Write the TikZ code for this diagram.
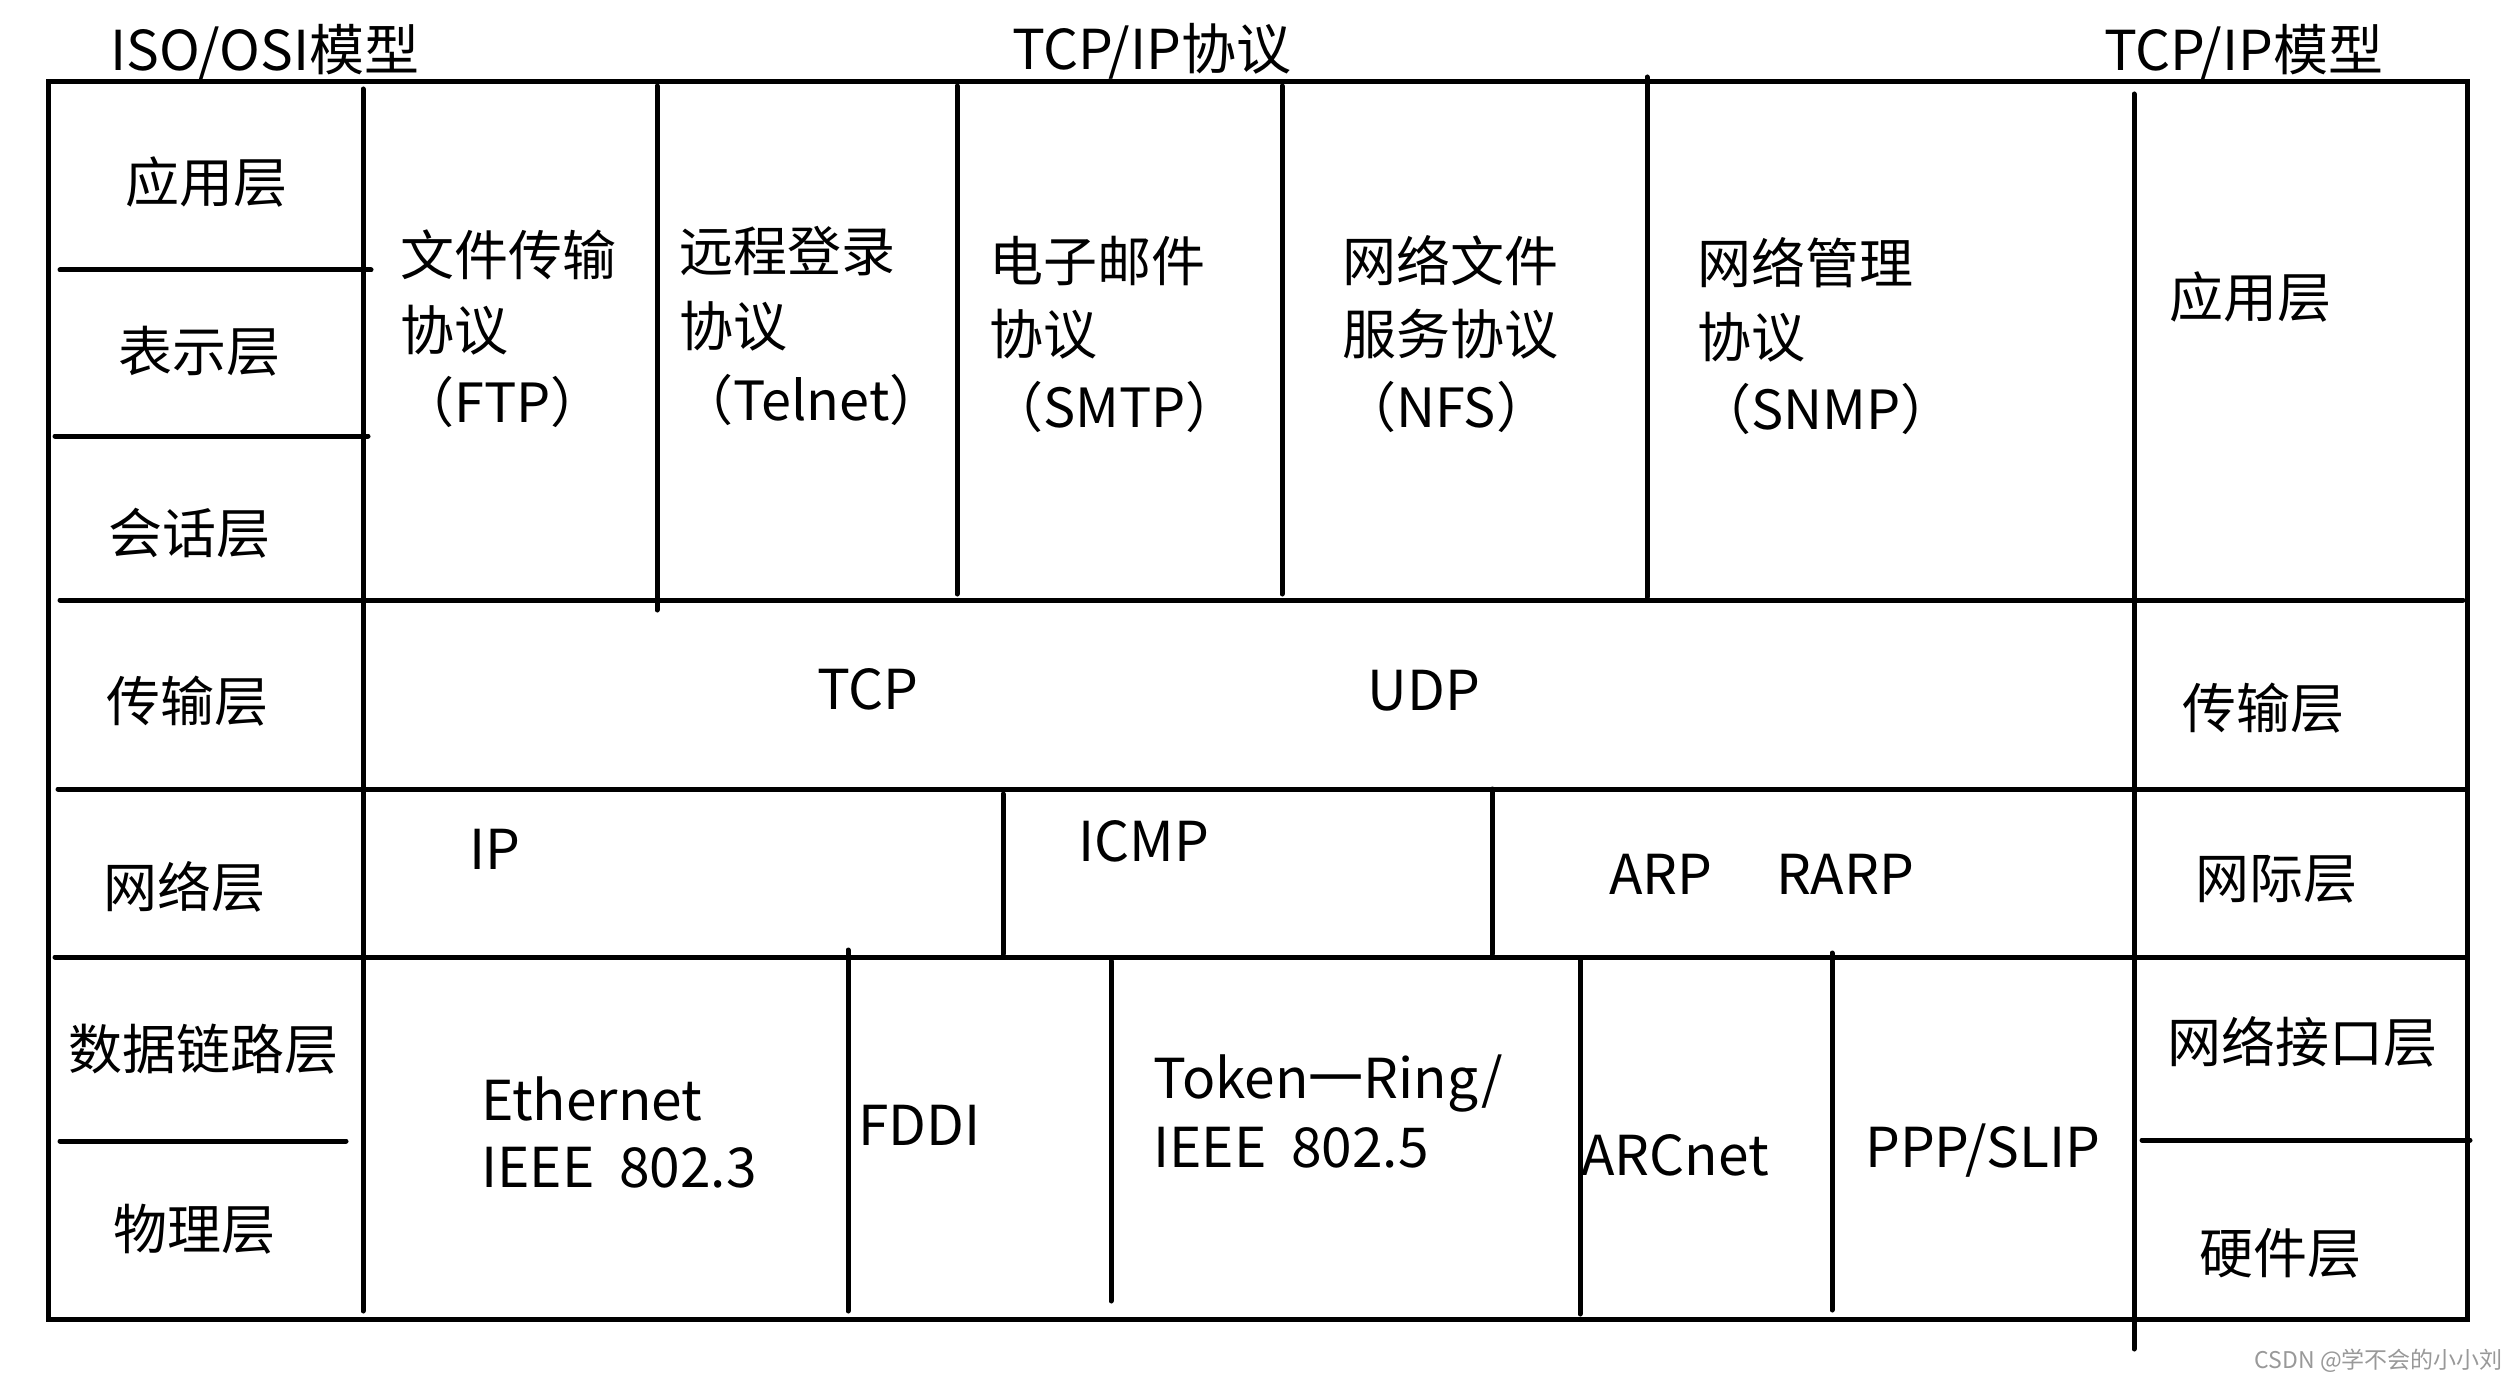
\documentclass[tikz,border=0pt]{standalone}
\usepackage{fontspec}
\setmainfont{Noto Sans CJK SC}
\begin{document}
\begin{tikzpicture}[x=1pt,y=-1pt,
  ln/.style={line width=5pt,line cap=round},
  cj/.style={inner sep=0pt,font=\fontsize{54}{64}\selectfont},
  lw/.style={inner sep=0pt,font=\fontsize{55}{66}\selectfont,anchor=base west},
  la/.style={inner sep=0pt,font=\fontsize{55}{66}\selectfont,anchor=base west},
  lc/.style={inner sep=0pt,font=\fontsize{55}{66}\selectfont,anchor=base},
]
\useasboundingbox[fill=white] (0,0) rectangle (2517,1380);
% outer frame
\draw[ln,line cap=butt,line join=miter] (48,82) rectangle (2467,1319);
% row lines
\draw[ln] (60,600) -- (2463,600);
\draw[ln] (58,789) -- (2465,789);
\draw[ln] (55,957) -- (2465,957);
% left column sub-lines
\draw[ln] (60,270) -- (371,270);
\draw[ln] (55,436) -- (368,436);
\draw[ln] (60,1141) -- (346,1141);
% right column sub-line
\draw[ln] (2142,1140) -- (2470,1140);
% main verticals
\draw[ln] (363,89) -- (363,1311);
\draw[ln] (2134,94) -- (2134,1349);
% application row
\draw[ln] (657,86) -- (657,610);
\draw[ln] (957,86) -- (957,594);
\draw[ln] (1282,86) -- (1282,594);
\draw[ln] (1647,77) -- (1647,597);
% network row
\draw[ln] (1003,794) -- (1003,954);
\draw[ln] (1492,789) -- (1492,954);
% link row
\draw[ln] (848,950) -- (848,1311);
\draw[ln] (1111,961) -- (1111,1301);
\draw[ln] (1580,958) -- (1580,1314);
\draw[ln] (1832,953) -- (1832,1310);

% titles
\node[lw] (t1) at (110,71) {ISO/OSI模型};
\node[lw] (t2) at (1012,70) {TCP/IP协议};
\node[lw] (t3) at (2104,71) {TCP/IP模型};

% left column (ISO/OSI)
\node[cj] (o7) at (206,182) {应用层};
\node[cj] (o6) at (199,351) {表示层};
\node[cj] (o5) at (189,533) {会话层};
\node[cj] (o4) at (187,701) {传输层};
\node[cj] (o3) at (184,887) {网络层};
\node[cj] (o2) at (203,1049) {数据链路层};
\node[cj] (o1) at (194,1229) {物理层};

% right column (TCP/IP model)
\node[cj] (m4) at (2250,297) {应用层};
\node[cj] (m3) at (2263,708) {传输层};
\node[cj] (m2) at (2276,879) {网际层};
\node[cj] (m1a) at (2302,1042) {网络接口层};
\node[cj] (m1b) at (2280,1253) {硬件层};

% application protocols
\node[cj,anchor=base west] (ftp1) at (400,276) {文件传输};
\node[cj,anchor=base west] (ftp2) at (400,350) {协议};
\node[cj,anchor=base west] (ftp3) at (400,422) {（FTP）};
\node[cj,anchor=base west] (tel1) at (679,272) {远程登录};
\node[cj,anchor=base west] (tel2) at (679,346) {协议};
\node[cj,anchor=base west] (tel3) at (679,420) {（Telnet）};
\node[cj,anchor=base west] (smtp1) at (989,282) {电子邮件};
\node[cj,anchor=base west] (smtp2) at (989,355) {协议};
\node[cj,anchor=base west] (smtp3) at (989,427) {（SMTP）};
\node[cj,anchor=base west] (nfs1) at (1342,282) {网络文件};
\node[cj,anchor=base west] (nfs2) at (1342,355) {服务协议};
\node[cj,anchor=base west] (nfs3) at (1342,427) {（NFS）};
\node[cj,anchor=base west] (snmp1) at (1697,284) {网络管理};
\node[cj,anchor=base west] (snmp2) at (1697,357) {协议};
\node[cj,anchor=base west] (snmp3) at (1697,429) {（SNMP）};

% transport
\node[lc] (tcp) at (868,709) {TCP};
\node[lc] (udp) at (1424,710) {UDP};

% network
\node[lc] (ip) at (495,869) {IP};
\node[lc] (icmp) at (1144,861) {ICMP};
\node[lc] (arp) at (1661,894) {ARP};
\node[lc] (rarp) at (1845,894) {RARP};

% link
\node[la] (eth1) at (481,1120) {Ethernet};
\node[la] (eth2) at (481,1187) {IEEE\ \ 802.3};
\node[la] (fddi) at (858,1145) {FDDI};
\node[la] (tok1) at (1153,1098) {Token一Ring/};
\node[la] (tok2) at (1153,1167) {IEEE\ \ 802.5};
\node[la] (arc) at (1581,1175) {ARCnet};
\node[la] (ppp) at (1865,1167) {PPP/SLIP};

% watermark
\node[inner sep=0pt,font=\fontsize{23}{27}\selectfont,text=black!40,anchor=east] (wm) at (2503,1361) {CSDN @学不会的小小刘};
\end{tikzpicture}
\end{document}
